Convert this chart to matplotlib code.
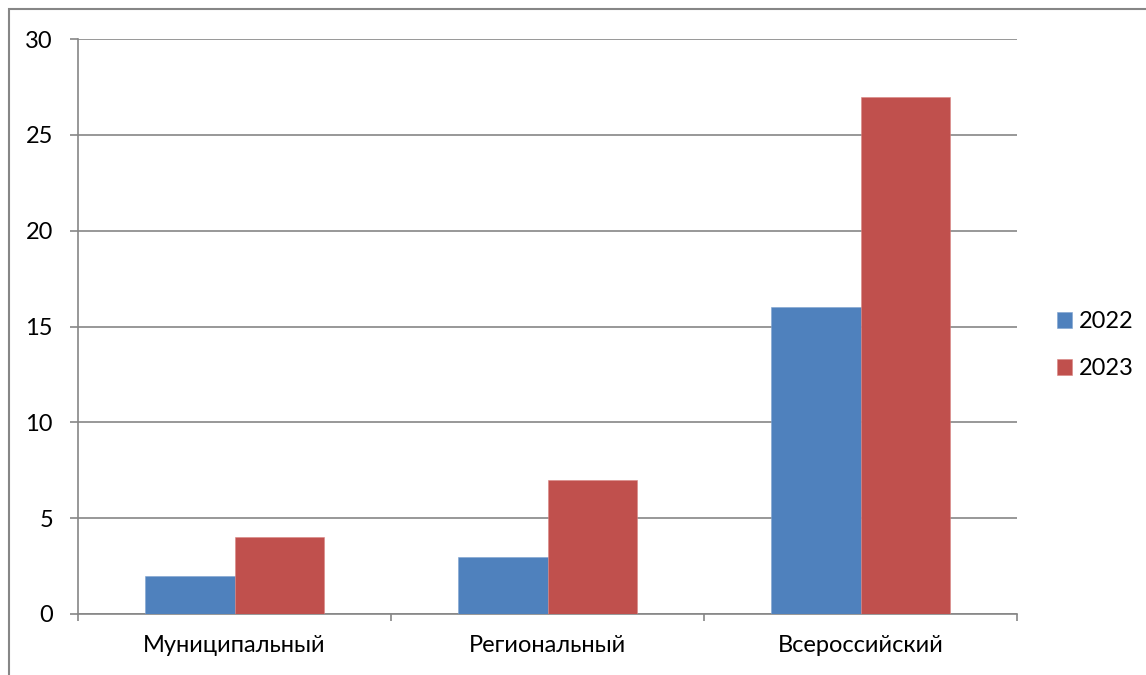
import matplotlib
matplotlib.use("Agg")
import matplotlib.pyplot as plt
from matplotlib.patches import Rectangle
import numpy as np

categories = ["Муниципальный", "Региональный", "Всероссийский"]
series_names = ["2022", "2023"]
values_2022 = [2, 3, 16]
values_2023 = [4, 7, 27]
y_ticks = [0, 5, 10, 15, 20, 25, 30]

blue = "#4F81BD"
red = "#C0504D"
gray = "#868686"

plt.rcParams["font.family"] = ["Lato", "DejaVu Sans"]

fig = plt.figure(figsize=(11.46, 6.75), dpi=100)
ax = fig.add_axes([78 / 1146, 61 / 675, 939 / 1146, 575 / 675])

# outer chart frame
fig.patches.append(Rectangle((9 / 1146, -0.05), 1.2, (675 - 9) / 675 + 0.05,
                             transform=fig.transFigure, fill=False,
                             edgecolor=gray, linewidth=1.5, zorder=0))

x = np.arange(len(categories))
w = 1 / 3.5
ax.bar(x - w / 2, values_2022, w, color=blue, label=series_names[0],
       edgecolor="#7fa3d0", linewidth=0.4, zorder=3)
ax.bar(x + w / 2, values_2023, w, color=red, label=series_names[1],
       edgecolor="#d98583", linewidth=0.4, zorder=3)

ax.set_xlim(-0.5, len(categories) - 0.5)
ax.set_ylim(0, 30)
ax.set_yticks(y_ticks)
ax.set_xticks(x)
ax.set_xticklabels(categories)
ax.set_xticks(np.arange(len(categories) + 1) - 0.5, minor=True)
ax.yaxis.grid(True, color=gray, linewidth=1.2, zorder=0)
ax.set_axisbelow(True)

for s in ["top", "right"]:
    ax.spines[s].set_visible(False)
for s in ["left", "bottom"]:
    ax.spines[s].set_color(gray)
    ax.spines[s].set_linewidth(1.2)

fs = 17
ax.tick_params(axis="y", length=6, width=1.2, color=gray, labelsize=fs, pad=12)
ax.tick_params(axis="x", which="major", length=0, labelsize=fs, pad=15)
ax.tick_params(axis="x", which="minor", length=5, width=1.2, color=gray)

leg = ax.legend(loc="center left", bbox_to_anchor=(1.02, 0.467), frameon=False,
                fontsize=fs, handlelength=0.64, handleheight=0.64,
                handletextpad=0.3, labelspacing=1.1)

fig.savefig("out.png", dpi=100)
